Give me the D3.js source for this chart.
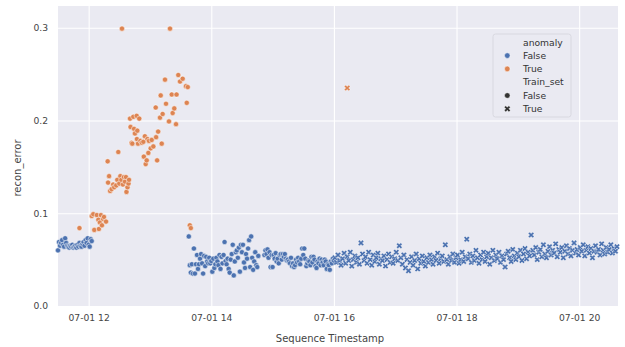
<!DOCTYPE html>
<html>
<head>
<meta charset="utf-8">
<script src="https://cdn.jsdelivr.net/npm/d3@7"></script>
<style>
  body { margin: 0; background: #fff; }
  svg { display: block; font-family: "DejaVu Sans", sans-serif; }
</style>
</head>
<body>
<div id="chart"></div>
<script>
const width = 625;
const height = 347;
const margin = {top: 6, right: 7, bottom: 41, left: 58};

// sequence runs 07-01 11:30 -> 20:38, offsets below are minutes after 11:30
const startTime = new Date(2021, 6, 1, 11, 30);
const endTime = new Date(2021, 6, 1, 20, 38);

// anomaly False, Train_set False (one point per minute)
const blueEarlyStart = 0;
const blueEarly = [0.060, 0.069, 0.065, 0.068, 0.071, 0.066, 0.064, 0.073, 0.068, 0.065,
  0.064, 0.063, 0.065, 0.064, 0.066, 0.063, 0.064, 0.065, 0.063, 0.066,
  0.064, 0.068, 0.065, 0.064, 0.067, 0.069, 0.065, 0.071, 0.068, 0.073,
  0.066, 0.064, 0.072, 0.070];

const blueLateStart = 128;
const blueLate = [0.075, 0.044, 0.036, 0.045, 0.035, 0.062, 0.035, 0.045, 0.055, 0.040,
  0.045, 0.051, 0.056, 0.046, 0.035, 0.054, 0.043, 0.053, 0.048, 0.046,
  0.052, 0.046, 0.0485, 0.037, 0.051, 0.041, 0.045, 0.052, 0.048, 0.044,
  0.055, 0.040, 0.053, 0.046, 0.055, 0.069, 0.0485, 0.045, 0.051, 0.040,
  0.036, 0.050, 0.056, 0.066, 0.033, 0.048, 0.058, 0.060, 0.052, 0.063,
  0.037, 0.066, 0.058, 0.066, 0.047, 0.041, 0.056, 0.051, 0.062, 0.071,
  0.042, 0.075, 0.052, 0.039, 0.048, 0.058, 0.044, 0.042, 0.054, null,
  null, null, null, null, 0.055, 0.060, 0.056, 0.061, 0.052, 0.058,
  0.042, 0.055, 0.042, 0.055, 0.051, 0.057, 0.048, 0.051, 0.046, 0.055,
  0.056, 0.050, 0.056, 0.053, 0.056, 0.051, 0.049, 0.050, 0.048, 0.046,
  0.052, 0.043, 0.046, 0.042, 0.044, 0.050, 0.047, 0.052, 0.048, 0.045,
  0.051, 0.062, 0.055, 0.062, 0.051, 0.043, 0.046, 0.049, 0.048, 0.044,
  0.053, 0.047, 0.053, 0.050, 0.043, 0.041, 0.048, 0.046, 0.051, 0.044,
  0.050, 0.047, 0.044, 0.050, 0.048, 0.040, 0.045, 0.044, 0.039, 0.048,
  0.046, 0.051, 0.049];

// anomaly False, Train_set True (one point every 1.5 minutes)
const trainStart = 271;
const trainStep = 1.5;
const trainValues = [0.052, 0.047, 0.055, 0.049, 0.044, 0.051, 0.057, 0.046, 0.053, 0.049,
  0.058, 0.043, 0.050, 0.054, 0.047, 0.052, 0.045, 0.068, 0.056, 0.049,
  0.053, 0.046, 0.058, 0.050, 0.044, 0.055, 0.048, 0.052, 0.057, 0.045,
  0.051, 0.049, 0.054, 0.043, 0.050, 0.056, 0.047, 0.053, 0.046, 0.051,
  0.058, 0.049, 0.065, 0.052, 0.045, 0.055, 0.041, 0.050, 0.038, 0.047,
  0.053, 0.044, 0.049, 0.056, 0.040, 0.051, 0.046, 0.054, 0.048, 0.043,
  0.052, 0.047, 0.055, 0.050, 0.045, 0.053, 0.049, 0.057, 0.046, 0.051,
  0.054, 0.048, 0.066, 0.050, 0.045, 0.053, 0.049, 0.056, 0.047, 0.052,
  0.055, 0.046, 0.050, 0.058, 0.048, 0.053, 0.072, 0.051, 0.056, 0.047,
  0.054, 0.049, 0.060, 0.052, 0.046, 0.055, 0.050, 0.058, 0.048, 0.053,
  0.057, 0.045, 0.052, 0.060, 0.049, 0.055, 0.051, 0.058, 0.047, 0.054,
  0.050, 0.042, 0.056, 0.059, 0.052, 0.048, 0.061, 0.054, 0.050, 0.057,
  0.053, 0.060, 0.049, 0.056, 0.062, 0.051, 0.058, 0.054, 0.0765, 0.060,
  0.055, 0.063, 0.050, 0.058, 0.061, 0.053, 0.066, 0.056, 0.052, 0.059,
  0.064, 0.055, 0.060, 0.057, 0.067, 0.053, 0.061, 0.058, 0.063, 0.052,
  0.059, 0.065, 0.056, 0.062, 0.054, 0.060, 0.068, 0.057, 0.061, 0.055,
  0.063, 0.059, 0.066, 0.054, 0.060, 0.064, 0.057, 0.062, 0.052, 0.059,
  0.065, 0.058, 0.061, 0.055, 0.067, 0.060, 0.056, 0.063, 0.058, 0.061,
  0.066, 0.057, 0.062, 0.059, 0.064];

// anomaly True, Train_set False: [minute, recon_error]
const anomalyPoints = [[21, 0.084], [33, 0.097], [34.5, 0.099], [35.5, 0.082], [38, 0.098],
  [39.5, 0.093], [40, 0.083], [41, 0.090], [42, 0.098], [43, 0.087], [44, 0.094],
  [45, 0.096], [47, 0.091],
  [48.6, 0.156], [49, 0.133], [50, 0.140], [51, 0.124], [52.5, 0.126], [54, 0.131],
  [55, 0.128], [57, 0.130], [58, 0.136], [59, 0.166], [60, 0.132], [61, 0.140],
  [62, 0.136], [62.6, 0.299], [63.5, 0.131], [64.5, 0.139], [65.5, 0.134], [66.5, 0.139],
  [67, 0.123], [68, 0.128], [69, 0.132], [69.5, 0.136],
  [70.5, 0.202], [71, 0.193], [72, 0.176], [72.7, 0.175], [73.7, 0.204], [74.4, 0.191],
  [75.3, 0.186], [77, 0.205], [77.2, 0.180], [77.6, 0.189], [78.3, 0.175], [79.5, 0.202],
  [80.7, 0.178], [82, 0.176], [83.5, 0.177], [84, 0.161], [85, 0.183], [85.8, 0.153],
  [86.8, 0.157], [87.5, 0.180], [88.4, 0.165], [89, 0.178], [90.7, 0.170], [91.7, 0.179],
  [93.3, 0.172], [95.6, 0.214], [96, 0.182], [97, 0.157], [98, 0.188], [99.8, 0.203],
  [100.5, 0.227], [101.5, 0.175], [102.4, 0.207], [104.7, 0.244], [105.7, 0.218],
  [108.6, 0.199], [109.6, 0.299], [111.3, 0.228], [112.2, 0.208], [113.8, 0.213],
  [115.5, 0.196], [116, 0.228], [117.7, 0.249], [119.4, 0.242], [122, 0.245],
  [125.2, 0.237], [126, 0.219], [127, 0.236], [129, 0.087], [130, 0.084]];

// anomaly True, Train_set True
const anomalyTrain = [[283, 0.235]];

const yTicks = [0, 0.1, 0.2, 0.3];
const yMax = 0.3234;
const xTickHours = [12, 14, 16, 18, 20];

const colors = {False: "#4c72b0", True: "#dd8452"};
const bg = "#eaeaf2";

const minuteToDate = (m) => new Date(startTime.getTime() + m * 60000);

// build one flat table
const points = [];
blueEarly.forEach((v, i) => {
  if (v != null) points.push({t: minuteToDate(blueEarlyStart + i), v: v, anomaly: "False", train: false});
});
anomalyPoints.forEach((d) => points.push({t: minuteToDate(d[0]), v: d[1], anomaly: "True", train: false}));
blueLate.forEach((v, i) => {
  if (v != null) points.push({t: minuteToDate(blueLateStart + i), v: v, anomaly: "False", train: false});
});
trainValues.forEach((v, i) => {
  points.push({t: minuteToDate(trainStart + i * trainStep), v: v, anomaly: "False", train: true});
});
anomalyTrain.forEach((d) => points.push({t: minuteToDate(d[0]), v: d[1], anomaly: "True", train: true}));

const svg = d3.select("#chart").append("svg")
  .attr("width", width)
  .attr("height", height);

const plotW = width - margin.left - margin.right;
const plotH = height - margin.top - margin.bottom;

const x = d3.scaleTime()
  .domain([startTime, endTime])
  .range([margin.left, width - margin.right]);

const y = d3.scaleLinear()
  .domain([0, yMax])
  .range([height - margin.bottom, margin.top]);

svg.append("rect")
  .attr("x", margin.left)
  .attr("y", margin.top)
  .attr("width", plotW)
  .attr("height", plotH)
  .attr("fill", bg);

const xTickDates = xTickHours.map((h) => new Date(2021, 6, 1, h, 0));

// grid
svg.append("g")
  .attr("transform", `translate(0,${height - margin.bottom})`)
  .call(d3.axisBottom(x).tickValues(xTickDates).tickSize(-plotH).tickFormat(""))
  .call((g) => g.select(".domain").remove())
  .call((g) => g.selectAll("line").attr("stroke", "#fff").attr("stroke-width", 1.1));

svg.append("g")
  .attr("transform", `translate(${margin.left},0)`)
  .call(d3.axisLeft(y).tickValues(yTicks).tickSize(-plotW).tickFormat(""))
  .call((g) => g.select(".domain").remove())
  .call((g) => g.selectAll("line").attr("stroke", "#fff").attr("stroke-width", 1.1));

// tick labels
const xAxis = svg.append("g")
  .attr("transform", `translate(0,${height - margin.bottom})`)
  .call(d3.axisBottom(x).tickValues(xTickDates).tickSize(0).tickPadding(8)
    .tickFormat(d3.timeFormat("%m-%d %H")));
xAxis.select(".domain").remove();
xAxis.selectAll("text").attr("fill", "#444").style("font-size", "9.2px")
  .style("font-family", "DejaVu Sans, sans-serif");

const yAxis = svg.append("g")
  .attr("transform", `translate(${margin.left},0)`)
  .call(d3.axisLeft(y).tickValues(yTicks).tickSize(0).tickPadding(10).tickFormat(d3.format(".1f")));
yAxis.select(".domain").remove();
yAxis.selectAll("text").attr("fill", "#444").style("font-size", "9.2px")
  .style("font-family", "DejaVu Sans, sans-serif");

// axis titles
svg.append("text")
  .attr("x", margin.left + plotW / 2 - 8)
  .attr("y", 342)
  .attr("text-anchor", "middle")
  .attr("fill", "#444")
  .style("font-size", "10px")
  .text("Sequence Timestamp");

svg.append("text")
  .attr("transform", `translate(21,168) rotate(-90)`)
  .attr("text-anchor", "middle")
  .attr("fill", "#444")
  .style("font-size", "10px")
  .text("recon_error");

// marks
const xSymbol = d3.symbol().type(d3.symbolCross).size(22);

const marks = svg.append("g");
marks.selectAll("circle")
  .data(points.filter((d) => !d.train))
  .join("circle")
  .attr("cx", (d) => x(d.t))
  .attr("cy", (d) => y(d.v))
  .attr("r", 2.6)
  .attr("fill", (d) => colors[d.anomaly])
  .attr("stroke", "#fff")
  .attr("stroke-width", 0.5);

marks.selectAll("path")
  .data(points.filter((d) => d.train))
  .join("path")
  .attr("d", xSymbol)
  .attr("transform", (d) => `translate(${x(d.t)},${y(d.v)}) rotate(45)`)
  .attr("fill", (d) => colors[d.anomaly])
  .attr("stroke", "#fff")
  .attr("stroke-width", 0.4);

// legend
const legend = svg.append("g").attr("transform", "translate(493,34)");
legend.append("rect")
  .attr("width", 78)
  .attr("height", 83)
  .attr("rx", 2.5)
  .attr("fill", bg)
  .attr("stroke", "#d4d4dc")
  .attr("stroke-width", 0.8);

const legendRows = [
  {label: "anomaly", kind: "title"},
  {label: "False", kind: "circle", color: colors.False},
  {label: "True", kind: "circle", color: colors.True},
  {label: "Train_set", kind: "title"},
  {label: "False", kind: "circle", color: "#333"},
  {label: "True", kind: "cross", color: "#333"}
];

const row = legend.selectAll("g.row")
  .data(legendRows)
  .join("g")
  .attr("class", "row")
  .attr("transform", (d, i) => `translate(0,${8.3 + i * 13.3})`);

row.append("text")
  .attr("x", 30)
  .attr("dy", "0.35em")
  .attr("fill", "#333")
  .style("font-size", "9.2px")
  .text((d) => d.label);

row.filter((d) => d.kind === "circle")
  .append("circle")
  .attr("cx", 14.3)
  .attr("r", 2.8)
  .attr("fill", (d) => d.color)
  .attr("stroke", "#fff")
  .attr("stroke-width", 0.5);

row.filter((d) => d.kind === "cross")
  .append("path")
  .attr("d", d3.symbol().type(d3.symbolCross).size(24))
  .attr("transform", "translate(14.3,0) rotate(45)")
  .attr("fill", (d) => d.color)
  .attr("stroke", "#fff")
  .attr("stroke-width", 0.4);
</script>
</body>
</html>
